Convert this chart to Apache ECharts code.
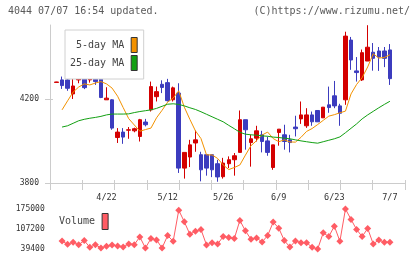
<!DOCTYPE html>
<html>
<head>
<meta charset="utf-8">
<script src="https://cdn.jsdelivr.net/npm/echarts@6/dist/echarts.min.js"></script>
<style>
html, body { margin: 0; padding: 0; background: #fff; }
#chart { width: 420px; height: 259px; }
</style>
</head>
<body>
<div id="chart"></div>
<script>
/** ---------------- data ---------------- */
var dates = ['4/9','4/10','4/11','4/14','4/15','4/16','4/17','4/18','4/21','4/22',
	'4/23','4/24','4/25','4/28','4/30','5/1','5/2','5/7','5/8','5/9',
	'5/12','5/13','5/14','5/15','5/16','5/19','5/20','5/21','5/22','5/23',
	'5/26','5/27','5/28','5/29','5/30','6/2','6/3','6/4','6/5','6/6',
	'6/9','6/10','6/11','6/12','6/13','6/16','6/17','6/18','6/19','6/20',
	'6/23','6/24','6/25','6/26','6/27','6/30','7/1','7/2','7/3','7/4','7/7'];
var labelDates = ['4/22','5/12','5/26','6/9','6/23','7/7'];

var opens = [4280,4292,4292,4225,4292,4305,4292,4295,4295,4197,
	4197,4017,4043,4052,4049,4022,4091,4149,4212,4271,
	4279,4197,4229,3871,3924,3991,3935,3935,3935,3892,
	3830,3892,3911,3946,4102,3993,4014,4030,4001,3874,
	4041,4030,4006,4067,4106,4073,4125,4146,4111,4173,
	4216,4168,4197,4482,4335,4292,4382,4424,4430,4430,4435];
var closes = [4282,4265,4252,4263,4305,4255,4311,4284,4208,4205,
	4062,4043,4019,4054,4059,4102,4078,4260,4236,4256,
	4193,4254,3871,3946,3982,4006,3863,3871,3863,3829,
	3895,3911,3930,4102,4054,4011,4049,3998,3946,3982,
	4057,3998,3993,4059,4125,4125,4092,4092,4162,4160,
	4168,4133,4501,4387,4327,4422,4448,4395,4401,4395,4298];
var lows = [4280,4249,4240,4201,4276,4248,4279,4268,4205,4197,
	4054,3991,3987,4011,4042,3998,4070,4141,4189,4229,
	4189,4189,3848,3821,3876,3949,3808,3835,3828,3806,
	3821,3871,3835,3946,3959,3878,3998,3946,3930,3863,
	3978,3959,3946,4022,4082,4063,4073,4092,4111,4135,
	4157,4073,4173,4340,4284,4287,4382,4336,4335,4353,4268];
var highs = [4283,4308,4316,4308,4316,4363,4337,4305,4301,4257,
	4200,4062,4062,4067,4064,4106,4106,4284,4260,4290,
	4297,4260,4276,3946,4006,4051,3949,3935,3935,3911,
	3920,3927,3943,4146,4102,4030,4073,4049,4021,3982,
	4057,4078,4030,4121,4189,4157,4141,4146,4162,4260,
	4287,4178,4522,4497,4401,4437,4553,4468,4449,4449,4463];

var ma5 = ['-',4149,4192,4234,4258,4273,4268,4277,4284,4273,
	4253,4214,4160,4107,4077,4047,4055,4062,4111,4147,
	4186,4205,4240,4162,4104,4049,4012,3934,3934,3917,
	3886,3864,3874,3886,3933,3978,4002,4029,4043,4012,
	3997,4006,3996,3995,4018,4046,4060,4079,4099,4119,
	4126,4135,4143,4225,4270,4303,4354,4417,4396,4399,4412];
var ma25 = ['-',4067,4073,4085,4097,4104,4109,4113,4118,4125,
	4129,4129,4129,4130,4136,4141,4145,4149,4156,4166,
	4176,4178,4175,4168,4159,4151,4140,4128,4116,4104,
	4092,4075,4059,4042,4033,4030,4028,4025,4023,4019,
	4017,4014,4011,4006,4001,3997,3993,3990,3997,4004,
	4011,4020,4040,4061,4082,4106,4125,4142,4159,4175,4190];

var volumes = ['-',66700,55400,62200,54200,67900,45100,54200,42800,48500,
	53100,49700,46200,56500,54200,80400,42800,74700,70200,42800,
	85000,65600,171000,131700,89500,99800,105500,53100,61000,56500,
	81600,78100,74700,136300,100900,72400,77000,63300,85000,130600,
	110000,67900,46200,66700,61000,61000,45100,39400,94100,81600,
	116900,65600,175000,139700,105500,81600,108900,56500,70200,62200,62200];

var priceTicks = [3800, 4200];
var volumeTicks = [39400, 107200, 175000];

/** ---------------- chart ---------------- */
var FONT = 'DejaVu Sans Mono';
var AXIS_GRAY = '#cccccc';

function plainNum(v) {
	return String(v);
}

function buildKData() {
	var list = [];
	for (var i = 0; i < dates.length; i++) {
		list.push([opens[i], closes[i], lows[i], highs[i]]);
	}
	return list;
}

function initChart() {
	var chart = echarts.init(document.getElementById('chart'), null, {renderer: 'canvas'});
	var option = {
		animation: false,
		backgroundColor: '#fff',
		textStyle: {fontFamily: FONT},
		title: [{
			text: '4044 07/07 16:54 updated.',
			left: 8, top: 6, padding: 0,
			textStyle: {fontFamily: FONT, fontSize: 10, fontWeight: 'normal', color: '#5a5a5a'}
		}, {
			text: '(C)https://www.rizumu.net/',
			right: 10, top: 6, padding: 0,
			textStyle: {fontFamily: FONT, fontSize: 10, fontWeight: 'normal', color: '#5a5a5a'}
		}],
		legend: [{
			data: ['5-day MA', '25-day MA'],
			orient: 'vertical',
			align: 'right',
			left: 65, top: 30,
			padding: [7, 6, 8, 5],
			itemGap: 2,
			itemWidth: 6, itemHeight: 15,
			icon: 'rect',
			borderColor: '#d0d0d0', borderWidth: 1,
			backgroundColor: '#fff',
			itemStyle: {borderColor: '#333', borderWidth: 1},
			textStyle: {fontFamily: FONT, fontSize: 10, color: '#444', padding: [0, 2, 0, 0]}
		}, {
			data: ['Volume'],
			align: 'right',
			left: 59, top: 213,
			padding: 0,
			itemWidth: 6, itemHeight: 16,
			icon: 'rect',
			itemStyle: {borderColor: '#333', borderWidth: 1},
			textStyle: {fontFamily: FONT, fontSize: 10, color: '#444', padding: [0, 2, 0, 0]}
		}],
		grid: [
			{left: 50, top: 25, width: 355, height: 158},   // frame
			{left: 53.7, top: 25, width: 339, height: 158}, // candles
			{left: 53.7, top: 209, width: 339, height: 40}  // volume
		],
		xAxis: [{
			type: 'value', gridIndex: 0, min: 0, max: 11, interval: 1, position: 'bottom',
			axisLine: {lineStyle: {color: AXIS_GRAY}},
			axisTick: {length: 7, lineStyle: {color: AXIS_GRAY}},
			axisLabel: {show: false},
			splitLine: {show: false}
		}, {
			type: 'value', gridIndex: 0, min: 0, max: 11, interval: 1, position: 'bottom',
			axisLine: {show: false},
			axisTick: {inside: true, length: 3, lineStyle: {color: AXIS_GRAY}},
			axisLabel: {show: false},
			splitLine: {show: false}
		}, {
			type: 'category', gridIndex: 1, data: dates, boundaryGap: true,
			axisLine: {show: false},
			axisTick: {show: false},
			axisLabel: {
				fontFamily: FONT, fontSize: 8.5, color: '#333', margin: 10,
				interval: function (index, value) {
					return labelDates.indexOf(value) >= 0;
				}
			},
			splitLine: {show: false}
		}, {
			type: 'category', gridIndex: 2, data: dates, boundaryGap: true, show: false
		}],
		yAxis: [{
			type: 'value', gridIndex: 0, min: 3800, max: 4554,
			axisLine: {show: true, lineStyle: {color: AXIS_GRAY}},
			axisTick: {show: true, length: 5, customValues: priceTicks, lineStyle: {color: AXIS_GRAY}},
			axisLabel: {fontFamily: FONT, fontSize: 8, color: '#333', margin: 11, customValues: priceTicks, formatter: plainNum},
			splitLine: {show: false}
		}, {
			type: 'value', gridIndex: 0, min: 3800, max: 4554, position: 'left',
			axisLine: {show: false},
			axisTick: {show: true, inside: true, length: 3, customValues: priceTicks, lineStyle: {color: AXIS_GRAY}},
			axisLabel: {show: false},
			splitLine: {show: false}
		}, {
			type: 'value', gridIndex: 1, min: 3800, max: 4554, show: false
		}, {
			type: 'value', gridIndex: 2, min: 39400, max: 175000,
			axisLine: {show: false},
			axisTick: {show: false},
			axisLabel: {fontFamily: FONT, fontSize: 8, color: '#333', margin: 9, customValues: volumeTicks, formatter: plainNum},
			splitLine: {show: false}
		}],
		series: [{
			name: 'price',
			type: 'candlestick',
			xAxisIndex: 2, yAxisIndex: 2,
			barWidth: 4,
			data: buildKData(),
			itemStyle: {
				color: '#d40000', color0: '#3c3cbe',
				borderColor: '#d40000', borderColor0: '#3c3cbe',
				borderWidth: 1
			}
		}, {
			name: '5-day MA',
			type: 'line',
			xAxisIndex: 2, yAxisIndex: 2,
			data: ma5,
			color: '#f39200',
			symbol: 'none',
			lineStyle: {width: 1, color: '#f39200'}
		}, {
			name: '25-day MA',
			type: 'line',
			xAxisIndex: 2, yAxisIndex: 2,
			data: ma25,
			color: '#12a012',
			symbol: 'none',
			lineStyle: {width: 1, color: '#12a012'}
		}, {
			name: 'Volume',
			type: 'line',
			xAxisIndex: 3, yAxisIndex: 3,
			data: volumes,
			color: '#ff5c64',
			symbol: 'diamond',
			symbolSize: 7,
			showAllSymbol: true,
			lineStyle: {width: 1, color: '#ff5c64'},
			itemStyle: {color: '#ff5c64'}
		}]
	};
	chart.setOption(option);
}

initChart();
</script>
</body>
</html>
